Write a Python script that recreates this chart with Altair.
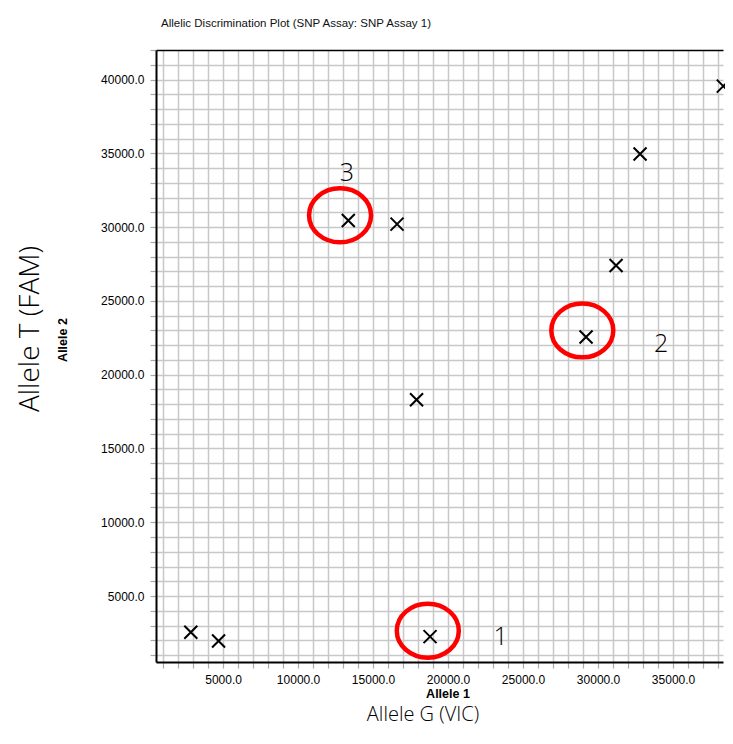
import altair as alt
import pandas as pd

# ---- data ----
allele1 = [2850, 4700, 18800, 13350, 16600, 17900, 29200, 31200, 32800, 38350]
allele2 = [2550, 1950, 2250, 30450, 30200, 18300, 22550, 27400, 34950, 39550]

circle_x = [18650, 28950, 12800]
circle_y = [2650, 23000, 30800]
cluster_labels = ["1", "2", "3"]
cluster_label_x = [23500, 34200, 13250]
cluster_label_y = [2250, 22050, 33650]

x_domain = [530, 38330]
y_domain = [530, 42000]
x_ticks = list(range(1000, 38001, 1000))
y_ticks = list(range(1000, 42001, 1000))

title_text = "Allelic Discrimination Plot (SNP Assay: SNP Assay 1)"
x_title = "Allele 1"
y_title = "Allele 2"
x_big = "Allele G (VIC)"
y_big = "Allele T (FAM)"

W, H = 567, 612

X_PATH = "M-1,-1L1,1M-1,1L1,-1"
ELLIPSE = "M-1,0A1,0.87,0,1,1,1,0A1,0.87,0,1,1,-1,0Z"

label_expr = "datum.value % 5000 == 0 ? format(datum.value, '.1f') : ''"
common_axis = dict(
    title=None, grid=True, gridWidth=1.5,
    tickColor="#a8a8a8", tickSize=6, tickWidth=1.2,
    domainColor="black", domainWidth=2,
    labelFont="Liberation Sans", labelFontSize=12, labelColor="black",
    labelPadding=6, labelOverlap=False, labelFlush=False, labelExpr=label_expr,
)
xaxis = alt.Axis(values=x_ticks, gridColor="#c8c8c8", **common_axis)
# the top edge of the frame is drawn as the black grid line at the domain maximum
yaxis = alt.Axis(
    values=y_ticks,
    gridColor=alt.condition(f"datum.value == {y_domain[1]}", alt.value("black"), alt.value("#c8c8c8")),
    **common_axis,
)
xs = alt.Scale(domain=x_domain, nice=False, zero=False)
ys = alt.Scale(domain=y_domain, nice=False, zero=False)

pts = pd.DataFrame({"a1": allele1, "a2": allele2})
points = alt.Chart(pts).mark_point(
    shape=X_PATH, filled=False, stroke="black", strokeWidth=2, size=169, opacity=1
).encode(
    x=alt.X("a1:Q", scale=xs, axis=xaxis),
    y=alt.Y("a2:Q", scale=ys, axis=yaxis),
)

circ = pd.DataFrame({"cx": circle_x, "cy": circle_y})
circles = alt.Chart(circ).mark_point(
    shape=ELLIPSE, filled=False, stroke="#ff0000", strokeWidth=4.5, size=3844, opacity=1
).encode(
    x=alt.X("cx:Q", scale=xs, axis=xaxis),
    y=alt.Y("cy:Q", scale=ys, axis=yaxis),
)

labs = pd.DataFrame({"lx": cluster_label_x, "ly": cluster_label_y, "t": cluster_labels})
cl_text = alt.Chart(labs).mark_text(
    font="Open Sans", fontWeight=300, fontSize=25, baseline="middle", align="center", color="black"
).encode(
    x=alt.X("lx:Q", scale=xs, axis=xaxis),
    y=alt.Y("ly:Q", scale=ys, axis=yaxis),
    text="t:N",
)

def fixed_text(txt, x, y, **kw):
    return alt.Chart(pd.DataFrame({"t": [txt]})).mark_text(**kw).encode(
        x=alt.value(x), y=alt.value(y), text="t:N"
    )

title = fixed_text(title_text, 140, -23, font="Liberation Sans", fontSize=11.5,
                   color="#111", align="center", baseline="alphabetic")
xt = fixed_text(x_title, 292, 648, font="Liberation Sans", fontSize=12.5, fontWeight="bold",
                color="black", align="center", baseline="alphabetic")
yt = fixed_text(y_title, -89, 290, font="Liberation Sans", fontSize=12.5, fontWeight="bold",
                color="black", align="center", baseline="alphabetic", angle=270)
xb = fixed_text(x_big, 267, 671, font="Open Sans", fontSize=20, fontWeight=300,
                color="black", align="center", baseline="alphabetic")
yb = fixed_text(y_big, -117, 279, font="Open Sans", fontSize=28, fontWeight=300,
                color="black", align="center", baseline="alphabetic", angle=270)

chart = alt.layer(points, circles, cl_text, title, xt, yt, xb, yb).properties(
    width=W, height=H, autosize="none",
    padding={"left": 148, "top": 42, "right": 2, "bottom": 66},
    background="white",
).configure_view(stroke=None)

chart.save("out.html", embed_options={"renderer": "svg", "actions": False})
